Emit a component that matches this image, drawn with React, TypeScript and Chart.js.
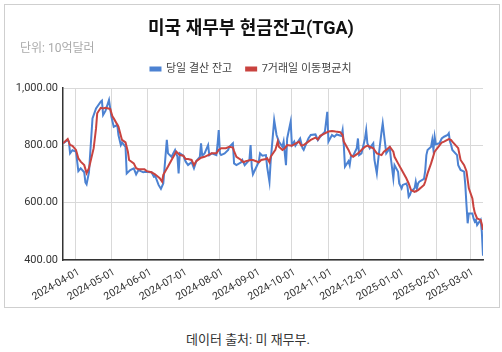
import React, { useEffect, useRef } from "react";
import { Chart, registerables } from "chart.js";

Chart.register(...registerables);

const titleText = "미국 재무부 현금잔고(TGA)";
const unitText = "단위: 10억달러";
const sourceText = "데이터 출처: 미 재무부.";
const seriesLabels = ["당일 결산 잔고", "7거래일 이동평균치"];

const balanceDates = [
  "2024-03-21","2024-03-25","2024-03-26","2024-03-27","2024-03-29","2024-04-01","2024-04-03","2024-04-05",
  "2024-04-08","2024-04-09","2024-04-10","2024-04-12","2024-04-15","2024-04-18","2024-04-22","2024-04-23",
  "2024-04-24","2024-04-26","2024-04-29","2024-05-01","2024-05-03","2024-05-06","2024-05-07","2024-05-09",
  "2024-05-10","2024-05-13","2024-05-14","2024-05-17","2024-05-20","2024-05-22","2024-05-24","2024-05-28",
  "2024-05-30","2024-06-03","2024-06-04","2024-06-06","2024-06-07","2024-06-10","2024-06-12","2024-06-14",
  "2024-06-17","2024-06-18","2024-06-21","2024-06-24","2024-06-26","2024-06-27","2024-06-28","2024-07-01",
  "2024-07-03","2024-07-05","2024-07-08","2024-07-10","2024-07-12","2024-07-15","2024-07-16","2024-07-17",
  "2024-07-19","2024-07-22","2024-07-23","2024-07-25","2024-07-29","2024-07-30","2024-07-31","2024-08-01",
  "2024-08-02","2024-08-05","2024-08-08","2024-08-09","2024-08-12","2024-08-13","2024-08-15","2024-08-19",
  "2024-08-20","2024-08-22","2024-08-26","2024-08-27","2024-08-28","2024-08-29","2024-09-03","2024-09-04",
  "2024-09-06","2024-09-09","2024-09-10","2024-09-12","2024-09-13","2024-09-16","2024-09-18","2024-09-20",
  "2024-09-23","2024-09-24","2024-09-26","2024-09-27","2024-09-30","2024-10-01","2024-10-03","2024-10-04",
  "2024-10-08","2024-10-10","2024-10-11","2024-10-15","2024-10-17","2024-10-21","2024-10-23","2024-10-25",
  "2024-10-29","2024-10-31","2024-11-01","2024-11-04","2024-11-06","2024-11-08","2024-11-12","2024-11-13",
  "2024-11-14","2024-11-15","2024-11-18","2024-11-19","2024-11-20","2024-11-22","2024-11-25","2024-11-26",
  "2024-11-27","2024-11-29","2024-12-02","2024-12-03","2024-12-04","2024-12-06","2024-12-09","2024-12-10",
  "2024-12-12","2024-12-13","2024-12-16","2024-12-17","2024-12-19","2024-12-20","2024-12-23","2024-12-24",
  "2024-12-26","2024-12-27","2024-12-30","2024-12-31","2025-01-02","2025-01-03","2025-01-06","2025-01-07",
  "2025-01-08","2025-01-09","2025-01-10","2025-01-13","2025-01-14","2025-01-15","2025-01-16","2025-01-17",
  "2025-01-21","2025-01-22","2025-01-23","2025-01-24","2025-01-27","2025-01-28","2025-01-29","2025-01-30",
  "2025-01-31","2025-02-03","2025-02-05","2025-02-07","2025-02-10","2025-02-11","2025-02-12","2025-02-13",
  "2025-02-14","2025-02-18","2025-02-19","2025-02-21","2025-02-24","2025-02-25","2025-02-26","2025-02-27",
  "2025-02-28","2025-03-03","2025-03-04","2025-03-05","2025-03-06","2025-03-07","2025-03-10","2025-03-11",
  "2025-03-12",
];
const balanceValues = [
  807, 819, 813, 772, 783, 778, 710, 720,
  706, 671, 664, 706, 894, 929, 952, 956,
  906, 920, 958, 900, 865, 871, 836, 801,
  810, 795, 702, 714, 720, 699, 714, 706,
  708, 706, 706, 691, 695, 662, 648, 667,
  819, 772, 760, 784, 760, 702, 772, 764,
  743, 731, 741, 720, 745, 760, 807, 764,
  772, 801, 766, 772, 766, 803, 853, 772,
  766, 772, 784, 795, 807, 737, 731, 741,
  749, 731, 749, 801, 726, 699, 743, 772,
  764, 766, 726, 673, 743, 888, 836, 813,
  795, 813, 731, 824, 883, 801, 813, 799,
  824, 790, 784, 824, 836, 838, 818, 830,
  848, 917, 813, 836, 830, 838, 833, 853,
  801, 726, 745, 731, 760, 764, 790, 824,
  766, 772, 824, 853, 807, 790, 807, 749,
  702, 743, 848, 877, 807, 772, 790, 752,
  685, 731, 708, 667, 650, 662, 667, 656,
  621, 627, 638, 650, 673, 650, 667, 673,
  683, 711, 766, 784, 795, 819, 784, 830,
  804, 807, 824, 830, 836, 842, 813, 801,
  784, 766, 731, 714, 708, 662, 592, 528,
  562, 562, 545, 534, 540, 522, 540, 499,
  415,
];

const averageDates = [
  "2024-03-21","2024-03-25","2024-03-27","2024-03-29","2024-04-01","2024-04-03","2024-04-05","2024-04-08",
  "2024-04-10","2024-04-12","2024-04-16","2024-04-18","2024-04-19","2024-04-22","2024-04-24","2024-04-26",
  "2024-04-30","2024-05-02","2024-05-03","2024-05-07","2024-05-10","2024-05-13","2024-05-15","2024-05-16",
  "2024-05-20","2024-05-22","2024-05-24","2024-05-29","2024-05-31","2024-06-04","2024-06-07","2024-06-11",
  "2024-06-13","2024-06-14","2024-06-18","2024-06-21","2024-06-25","2024-06-28","2024-07-01","2024-07-03",
  "2024-07-05","2024-07-08","2024-07-10","2024-07-12","2024-07-16","2024-07-19","2024-07-22","2024-07-25",
  "2024-07-29","2024-07-31","2024-08-02","2024-08-06","2024-08-09","2024-08-12","2024-08-13","2024-08-15",
  "2024-08-19","2024-08-21","2024-08-23","2024-08-27","2024-08-29","2024-09-03","2024-09-05","2024-09-09",
  "2024-09-10","2024-09-12","2024-09-13","2024-09-17","2024-09-19","2024-09-20","2024-09-23","2024-09-25",
  "2024-09-27","2024-10-01","2024-10-03","2024-10-07","2024-10-09","2024-10-11","2024-10-15","2024-10-17",
  "2024-10-21","2024-10-23","2024-10-25","2024-10-29","2024-11-01","2024-11-04","2024-11-07","2024-11-11",
  "2024-11-13","2024-11-14","2024-11-18","2024-11-20","2024-11-22","2024-11-26","2024-11-29","2024-12-02",
  "2024-12-04","2024-12-06","2024-12-09","2024-12-12","2024-12-16","2024-12-18","2024-12-20","2024-12-23",
  "2024-12-26","2024-12-27","2024-12-30","2025-01-02","2025-01-06","2025-01-08","2025-01-10","2025-01-13",
  "2025-01-16","2025-01-21","2025-01-22","2025-01-24","2025-01-27","2025-01-30","2025-02-03","2025-02-05",
  "2025-02-07","2025-02-11","2025-02-13","2025-02-14","2025-02-19","2025-02-21","2025-02-24","2025-02-26",
  "2025-02-28","2025-03-03","2025-03-04","2025-03-05","2025-03-07","2025-03-10","2025-03-11","2025-03-12",
];
const averageValues = [
  807, 822, 801, 798, 784, 755, 743, 731,
  703, 720, 790, 859, 912, 931, 929, 931,
  927, 900, 894, 865, 819, 810, 778, 749,
  737, 720, 717, 717, 710, 706, 699, 685,
  673, 697, 726, 749, 778, 766, 764, 752,
  752, 749, 731, 745, 757, 760, 766, 772,
  772, 784, 790, 790, 795, 792, 780, 760,
  749, 741, 745, 749, 749, 741, 749, 752,
  755, 741, 760, 784, 813, 795, 784, 790,
  801, 799, 803, 813, 799, 801, 813, 819,
  827, 820, 833, 842, 848, 850, 848, 846,
  836, 813, 784, 766, 760, 772, 784, 795,
  799, 795, 790, 772, 766, 778, 784, 795,
  778, 760, 737, 715, 685, 667, 644, 638,
  644, 662, 673, 702, 737, 778, 799, 810,
  813, 822, 818, 813, 790, 749, 731, 710,
  650, 615, 585, 565, 545, 540, 525, 505,
];

const monthTicks = [
  "2024-04-01","2024-05-01","2024-06-01","2024-07-01","2024-08-01","2024-09-01",
  "2024-10-01","2024-11-01","2024-12-01","2025-01-01","2025-02-01","2025-03-01",
];
const yMin = 400;
const yMax = 1000;
const yStep = 200;

const DAY_MS = 86400000;
const toDay = (s: string) => {
  const [y, m, d] = s.split("-").map(Number);
  return Date.UTC(y, m - 1, d) / DAY_MS;
};
const fromDay = (n: number) => new Date(Math.round(n) * DAY_MS).toISOString().slice(0, 10);

const FONT = "Roboto, 'Noto Sans CJK KR', 'Noto Sans', sans-serif";
const BLUE = "#4c82d2";
const RED = "#c9433f";

export default function App() {
  const canvasRef = useRef<HTMLCanvasElement | null>(null);

  useEffect(() => {
    const canvas = canvasRef.current;
    if (!canvas) return;

    const legendTweak = {
      id: "legendTweak",
      afterInit(chart: any) {
        const lg = chart.legend;
        if (!lg) return;
        const fit = lg.fit.bind(lg);
        lg.fit = () => {
          fit();
          lg.height += 3.5;
        };
        const draw = lg.draw.bind(lg);
        lg.draw = () => {
          const ctx = chart.ctx;
          ctx.save();
          ctx.translate(5, 0);
          draw();
          ctx.restore();
        };
      },
    };

    const chart = new Chart(canvas, {
      type: "line",
      data: {
        datasets: [
          {
            label: seriesLabels[0],
            data: balanceDates.map((d, i) => ({ x: toDay(d), y: balanceValues[i] })),
            borderColor: BLUE,
            backgroundColor: BLUE,
            borderWidth: 2,
            pointRadius: 0,
            tension: 0,
            order: 1,
          },
          {
            label: seriesLabels[1],
            data: averageDates.map((d, i) => ({ x: toDay(d), y: averageValues[i] })),
            borderColor: RED,
            backgroundColor: RED,
            borderWidth: 2,
            pointRadius: 0,
            tension: 0,
            order: 0,
          },
        ],
      },
      options: {
        animation: false,
        responsive: false,
        devicePixelRatio: 1,
        layout: { padding: { left: 4, right: 16, top: 44.5, bottom: 0 } },
        plugins: {
          title: { display: false },
          tooltip: { enabled: false },
          legend: {
            display: true,
            position: "top",
            labels: {
              boxWidth: 10,
              boxHeight: 3,
              padding: 14,
              color: "#444",
              font: { family: FONT, size: 11 },
              sort: (a: any, b: any) => a.datasetIndex - b.datasetIndex,
            },
          },
        },
        scales: {
          x: {
            type: "linear",
            min: toDay(balanceDates[0]),
            max: toDay(balanceDates[balanceDates.length - 1]),
            afterBuildTicks: (scale: any) => {
              scale.ticks = monthTicks.map((m) => ({ value: toDay(m) }));
            },
            afterFit: (scale: any) => {
              scale.height = 47;
            },
            ticks: {
              autoSkip: false,
              minRotation: 30,
              maxRotation: 30,
              padding: 6,
              labelOffset: 3,
              color: "#333",
              font: { family: FONT, size: 10.5 },
              callback: (v: any) => fromDay(Number(v)),
            },
            grid: { color: "#d9d9d9", lineWidth: 1, drawTicks: false },
            border: { display: true, color: "#333", width: 1.5 },
          },
          y: {
            min: yMin,
            max: yMax,
            afterFit: (scale: any) => {
              scale.width = 54;
            },
            ticks: {
              stepSize: yStep,
              padding: 5,
              color: "#333",
              font: { family: FONT, size: 11 },
              callback: (v: any) =>
                Number(v).toLocaleString("en-US", { minimumFractionDigits: 2, maximumFractionDigits: 2 }),
            },
            grid: { color: "#d9d9d9", lineWidth: 1, drawTicks: false },
            border: { display: true, color: "#333", width: 1.5 },
          },
        },
      },
      plugins: [legendTweak],
    } as any);

    return () => chart.destroy();
  }, []);

  return (
    <div style={{ position: "absolute", left: 0, top: 0, width: 502, height: 352, background: "#fff", fontFamily: FONT }}>
      <div
        style={{
          position: "absolute",
          left: 4,
          top: 4,
          width: 494,
          height: 302,
          border: "1px solid #cfcfcf",
          background: "#fff",
        }}
      >
        <canvas ref={canvasRef} width={494} height={302} style={{ display: "block" }} />
      </div>
      <div
        style={{
          position: "absolute",
          left: 0,
          top: 16.5,
          width: 502,
          textAlign: "center",
          fontSize: 18,
          lineHeight: "22px",
          fontWeight: 700,
          color: "#111",
        }}
      >
        {titleText}
      </div>
      <div
        style={{
          position: "absolute",
          left: 20,
          top: 40,
          fontSize: 12,
          lineHeight: "16px",
          color: "#aaa",
        }}
      >
        {unitText}
      </div>
      <div
        style={{
          position: "absolute",
          left: 0,
          top: 331,
          width: 496,
          textAlign: "center",
          fontSize: 13,
          lineHeight: "18px",
          color: "#333",
        }}
      >
        {sourceText}
      </div>
    </div>
  );
}
